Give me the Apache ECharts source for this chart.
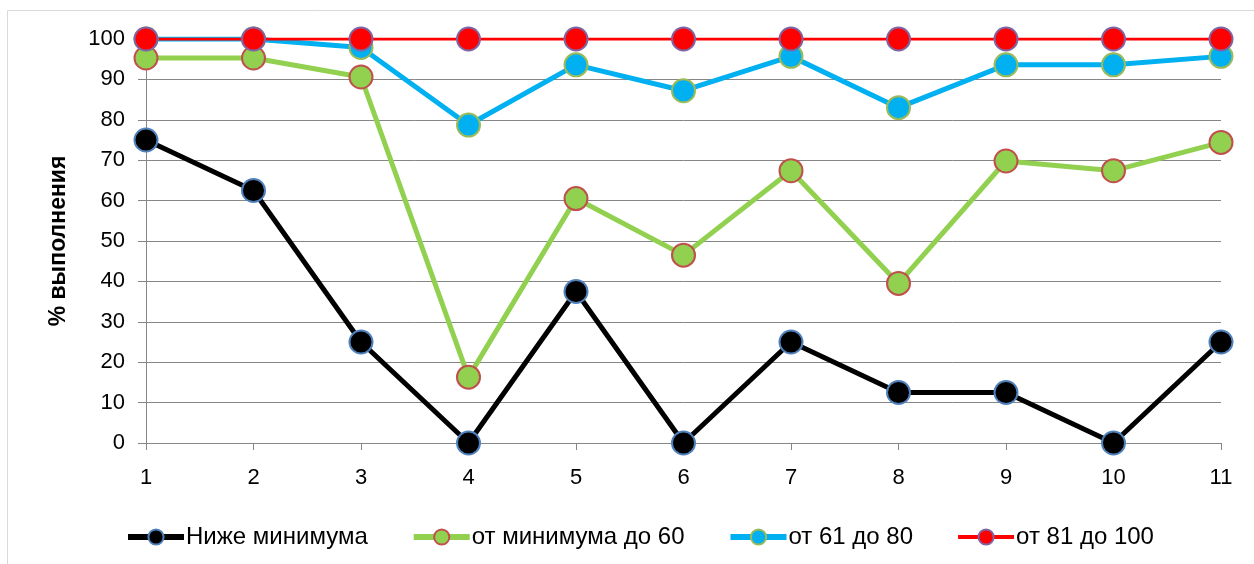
<!DOCTYPE html>
<html lang="ru">
<head>
    <meta charset="UTF-8">
    <title>% выполнения</title>
    <style>
        html, body { margin: 0; padding: 0; background: #fff; }
    </style>
</head>
<body>
    <div id="main" style="width: 1254px;height:564px;"></div>
    <script src="https://cdn.jsdelivr.net/npm/echarts@6/dist/echarts.min.js"></script>
    <script>

// номера заданий
var categories = ['1', '2', '3', '4', '5', '6', '7', '8', '9', '10', '11'];

var belowMin = [75, 62.5, 25, 0, 37.5, 0, 25, 12.5, 12.5, 0, 25];
var minTo60 = [95.3, 95.3, 90.6, 16.3, 60.5, 46.5, 67.4, 39.5, 69.8, 67.4, 74.4];
var from61to80 = [100, 100, 97.9, 78.7, 93.6, 87.2, 95.7, 83, 93.6, 93.6, 95.7];
var from81to100 = [100, 100, 100, 100, 100, 100, 100, 100, 100, 100, 100];

var seriesNames = ['Ниже минимума', 'от минимума до 60', 'от 61 до 80', 'от 81 до 100'];
var lineColors = ['#000000', '#92d050', '#00b0f0', '#ff0000'];
var borderColors = ['#4f81bd', '#c0504d', '#9bbb59', '#8064a2'];
var lineWidths = [5, 5, 5, 3];

var font = 'Liberation Sans';
var gridColor = '#868686';

function makeLine(i, data) {
    return {
        name: seriesNames[i],
        type: 'line',
        data: data,
        symbol: 'circle',
        symbolSize: 23,
        lineStyle: { color: lineColors[i], width: lineWidths[i] },
        itemStyle: { color: lineColors[i], borderColor: borderColors[i], borderWidth: 2 },
        emphasis: { disabled: true }
    };
}

var legendData = seriesNames.map(function (n, i) {
    return {
        name: n,
        lineStyle: { width: lineWidths[i] + 1 }
    };
});

var option = {
    animation: false,
    textStyle: { fontFamily: font },
    graphic: [{
        type: 'rect',
        shape: { x: 7.5, y: 10.5, width: 1260, height: 580 },
        style: { fill: 'none', stroke: '#d9d9d9', lineWidth: 1 },
        silent: true
    }],
    grid: {
        left: 146,
        right: 33,
        top: 39,
        bottom: 121
    },
    legend: {
        top: 520,
        left: 120,
        itemWidth: 56,
        itemHeight: 19,
        itemGap: 43,
        textStyle: { fontSize: 24, color: '#000', fontFamily: font, padding: [0, 0, 0, -3] },
        data: legendData
    },
    xAxis: {
        type: 'category',
        data: categories,
        boundaryGap: false,
        axisLine: { lineStyle: { color: gridColor, width: 1 } },
        axisTick: { show: true, alignWithLabel: true, length: 7, lineStyle: { color: gridColor } },
        axisLabel: { color: '#000', fontSize: 22, margin: 24, fontFamily: font },
        splitLine: { show: false }
    },
    yAxis: {
        type: 'value',
        min: 0,
        max: 100,
        interval: 10,
        name: '% выполнения',
        nameLocation: 'middle',
        nameGap: 76,
        nameTextStyle: { fontSize: 23, fontWeight: 'bold', color: '#000', fontFamily: font },
        axisLine: { show: true, lineStyle: { color: gridColor, width: 1 } },
        axisTick: { show: true, length: 8, lineStyle: { color: gridColor } },
        axisLabel: { color: '#000', fontSize: 22, margin: 21, fontFamily: font },
        splitLine: { show: true, lineStyle: { color: gridColor, width: 1 } }
    },
    series: [
        makeLine(0, belowMin),
        makeLine(1, minTo60),
        makeLine(2, from61to80),
        makeLine(3, from81to100)
    ]
};

var myChart = echarts.init(document.getElementById('main'));
myChart.setOption(option);

    </script>
</body>
</html>
